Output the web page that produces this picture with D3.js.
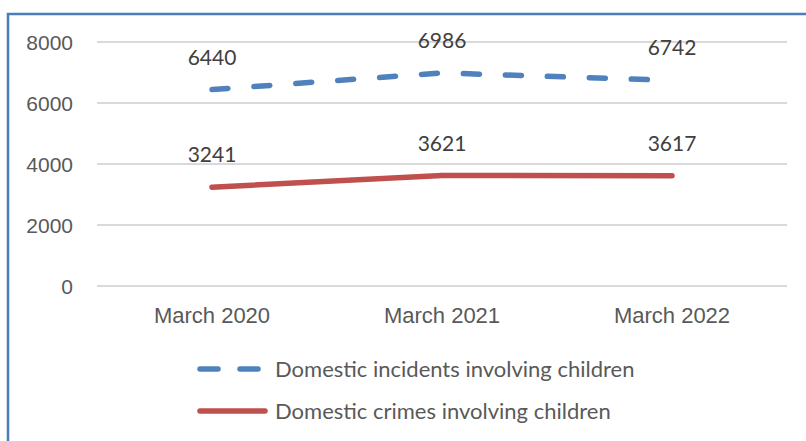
<!DOCTYPE html>
<html>
<head>
<meta charset="utf-8">
<script src="https://cdn.jsdelivr.net/npm/d3@7"></script>
<style>
  body { margin: 0; background: #fff; }
  svg { display: block; font-family: Lato, "Open Sans", sans-serif; }
</style>
</head>
<body>
<svg id="chart" width="806" height="441"></svg>
<script>
const categories = ['March 2020', 'March 2021', 'March 2022'];
const incidents = [6440, 6986, 6742];
const crimes = [3241, 3621, 3617];
const yTicks = [0, 2000, 4000, 6000, 8000];
const seriesNames = ['Domestic incidents involving children', 'Domestic crimes involving children'];

const svg = d3.select('#chart');
const margin = { left: 97, right: 19, top: 42, bottom: 155 };
const width = 806, height = 441;

// frame around the chart (only top and left show)
svg.append('path')
  .attr('d', `M8,441 V14 H806`)
  .attr('fill', 'none')
  .attr('stroke', '#4a7ebb')
  .attr('stroke-width', 2.5);

const x = d3.scaleBand()
  .domain(categories)
  .range([margin.left, width - margin.right]);

const y = d3.scaleLinear()
  .domain([0, 8000])
  .range([height - margin.bottom, margin.top]);

// gridlines
svg.append('g')
  .selectAll('line')
  .data(yTicks)
  .join('line')
  .attr('x1', margin.left)
  .attr('x2', width - margin.right)
  .attr('y1', d => y(d))
  .attr('y2', d => y(d))
  .attr('stroke', '#d9d9d9')
  .attr('stroke-width', 2);

const yAxis = svg.append('g')
  .attr('transform', `translate(${margin.left - 24},0)`)
  .call(d3.axisLeft(y).tickValues(yTicks).tickFormat(d3.format('d')).tickSize(0).tickPadding(0));
yAxis.select('.domain').remove();
yAxis.selectAll('text')
  .attr('fill', '#595959')
  .attr('font-size', 21)
  .attr('dy', '0.35em');

const xAxis = svg.append('g')
  .attr('transform', `translate(0,${y(0) + 21})`)
  .call(d3.axisBottom(x).tickSize(0).tickPadding(0));
xAxis.select('.domain').remove();
xAxis.selectAll('text')
  .attr('fill', '#595959')
  .attr('font-size', 22)
  .attr('dy', '0.71em');

const cx = d => x(d) + x.bandwidth() / 2;
const line = d3.line()
  .x((d, i) => cx(categories[i]))
  .y(d => y(d));

svg.append('path')
  .datum(incidents)
  .attr('d', line)
  .attr('fill', 'none')
  .attr('stroke', '#4f81bd')
  .attr('stroke-width', 5.5)
  .attr('stroke-linecap', 'round')
  .attr('stroke-dasharray', '16,26');

svg.append('path')
  .datum(crimes)
  .attr('d', line)
  .attr('fill', 'none')
  .attr('stroke', '#c0504d')
  .attr('stroke-width', 5.5)
  .attr('stroke-linecap', 'round');

function labels(values) {
  svg.append('g')
    .selectAll('text')
    .data(values)
    .join('text')
    .attr('x', (d, i) => cx(categories[i]))
    .attr('y', d => y(d) - 25)
    .attr('text-anchor', 'middle')
    .attr('fill', '#404040')
    .attr('font-size', 21)
    .text(d => d);
}
labels(incidents);
labels(crimes);

// legend
const legend = svg.append('g');
const rows = [
  { name: seriesNames[0], color: '#4f81bd', dash: '18,22', y: 369 },
  { name: seriesNames[1], color: '#c0504d', dash: null, y: 411 }
];
rows.forEach(r => {
  legend.append('line')
    .attr('x1', 200).attr('x2', 265)
    .attr('y1', r.y).attr('y2', r.y)
    .attr('stroke', r.color)
    .attr('stroke-width', 5.5)
    .attr('stroke-linecap', 'round')
    .attr('stroke-dasharray', r.dash);
  legend.append('text')
    .attr('x', 275)
    .attr('y', r.y)
    .attr('dy', '0.35em')
    .attr('fill', '#595959')
    .attr('font-size', 22)
    .text(r.name);
});
</script>
</body>
</html>
